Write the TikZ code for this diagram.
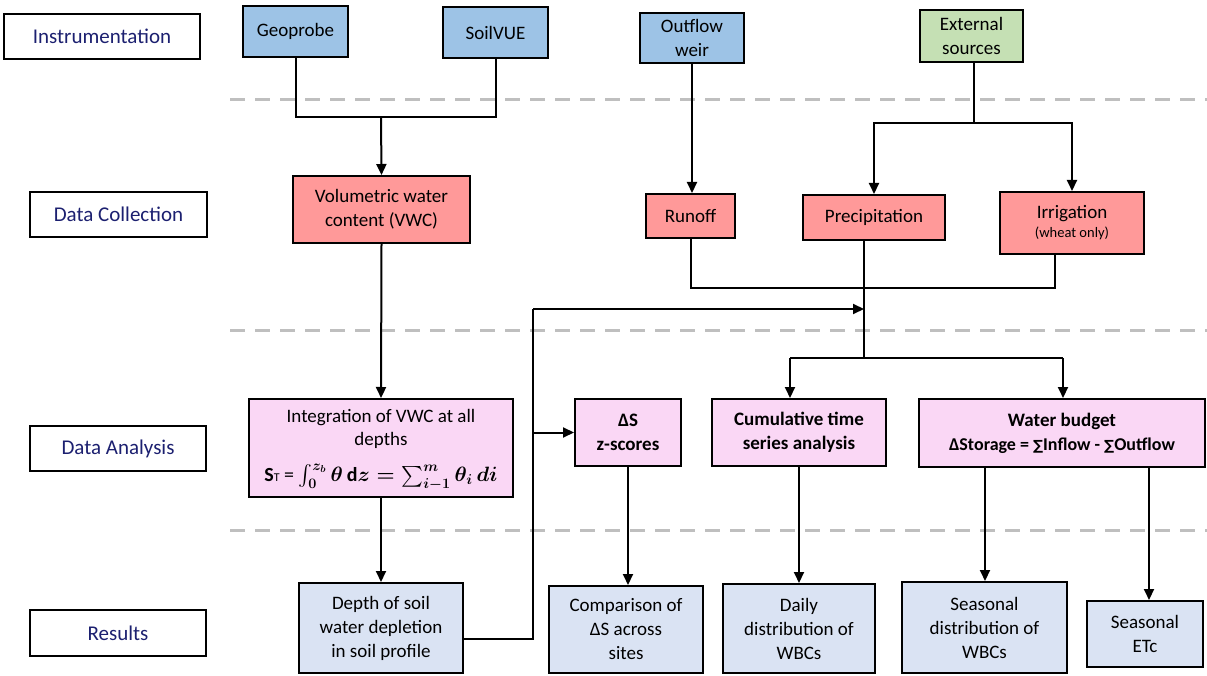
\documentclass[tikz,border=0pt]{standalone}
\usepackage{fontspec}
\usepackage{amsmath,bm}
\setmainfont{Carlito}
\newfontfamily\symfont{DejaVu Sans}
\usetikzlibrary{arrows.meta,calc}
\definecolor{instblue}{RGB}{157,195,230}
\definecolor{extgreen}{RGB}{197,224,180}
\definecolor{collred}{RGB}{255,153,153}
\definecolor{anapink}{RGB}{250,215,245}
\definecolor{resblue}{RGB}{218,227,243}
\definecolor{navy}{RGB}{28,32,112}
\definecolor{sepgray}{RGB}{191,191,191}
\begin{document}
\begin{tikzpicture}[x=1pt,y=-1pt,
  box/.style={draw=black, line width=2pt, align=center, inner sep=1pt, font=\fontsize{19}{24}\selectfont},
  lab/.style={box, fill=white, text=navy, font=\fontsize{21}{24}\selectfont, minimum height=45pt},
  inst/.style={box, fill=instblue},
  coll/.style={box, fill=collred},
  ana/.style={box, fill=anapink},
  anab/.style={ana, font=\fontsize{19}{24}\selectfont\bfseries},
  res/.style={box, fill=resblue},
  txt/.style={align=center, inner sep=0pt, font=\fontsize{19}{23}\selectfont},
  conn/.style={line width=2pt},
  arr/.style={conn, -{Triangle[length=11pt,width=10pt]}},
  sep/.style={sepgray, line width=3pt, dash pattern=on 15pt off 10pt}]
\useasboundingbox (0,0) rectangle (1207,676);
% separators
\draw[sep] (230,100) -- (1207,100);
\draw[sep] (230,330) -- (1207,330);
\draw[sep] (230,530) -- (1207,530);
% row labels
\node[lab, minimum width=196pt] (lInst) at (102,36.5) {Instrumentation};
\node[lab, minimum width=177pt] (lColl) at (118.5,214.5) {Data Collection};
\node[lab, minimum width=176pt] (lAna) at (118,448.5) {Data Analysis};
\node[lab, minimum width=176pt, minimum height=46pt] (lRes) at (118,633) {Results};
% instrumentation
\node[inst, minimum width=105pt, minimum height=51pt] (geo) at (295.5,31.5) {Geoprobe};
\node[inst, minimum width=105pt, minimum height=51pt] (soil) at (495.5,32.5) {SoilVUE};
\node[inst, minimum width=104pt, minimum height=50pt] (weir) at (692,38) {Outflow\\weir};
\node[box, fill=extgreen, minimum width=103pt, minimum height=52pt] (ext) at (971.5,36) {External\\sources};
% data collection
\node[coll, minimum width=177pt, minimum height=67pt] (vwc) at (381.5,209.5) {Volumetric water\\content (VWC)};
\node[coll, minimum width=89pt, minimum height=44pt] (runoff) at (690.5,216) {Runoff};
\node[coll, minimum width=142pt, minimum height=45pt] (precip) at (874,217.5) {Precipitation};
\node[coll, minimum width=144pt, minimum height=62pt] (irr) at (1072,223) {Irrigation\\[-5pt]{\fontsize{14.5}{16}\selectfont (wheat only)}};
% data analysis
\node[ana, minimum width=264pt, minimum height=98pt] (integ) at (381,448) {};
\node[txt] (integt) at (381,429) {Integration of VWC at all\\depths};
\node[txt, font=\fontsize{20}{24}\selectfont] (integf) at (381,477) {{\bfseries S}{\fontsize{12}{12}\selectfont T} = {\boldmath$\int_0^{z_b}\theta\,\mathrm{d}z=\sum_{i-1}^{m}\theta_i\,di$}};
\node[anab, minimum width=106pt, minimum height=67pt] (ds) at (628,432.5) {ΔS\\z-scores};
\node[anab, minimum width=174pt, minimum height=67pt] (cum) at (799,432.5) {Cumulative time\\series analysis};
\node[anab, minimum width=286pt, minimum height=68pt] (wb) at (1062,433) {Water budget\\{\fontsize{18}{24}\selectfont ΔStorage = {\symfont\fontsize{14}{14}\selectfont ∑}Inflow - {\symfont\fontsize{14}{14}\selectfont ∑}Outflow}};
% results
\node[res, minimum width=164pt, minimum height=90pt] (depth) at (381,628) {Depth of soil\\water depletion\\in soil profile};
\node[res, minimum width=154pt, minimum height=87pt] (comp) at (626,629.5) {Comparison of\\ΔS across\\sites};
\node[res, minimum width=152pt, minimum height=89pt] (daily) at (799,628.5) {Daily\\distribution of\\WBCs};
\node[res, minimum width=165pt, minimum height=91pt] (seas) at (984.5,627.5) {Seasonal\\distribution of\\WBCs};
\node[res, minimum width=116pt, minimum height=66pt] (etc) at (1145,634) {Seasonal\\ETc};
% helper coordinates
\coordinate (j1) at (381,117);
\coordinate (j2) at (974,123);
\coordinate (j3) at (864,288);
\coordinate (j4) at (864,358);
\coordinate (irrb) at (1055,0);
\coordinate (cumin) at (790,358);
\coordinate (wbin) at (1063,358);
\coordinate (up) at (533,309);
\coordinate (wbl) at (985,0);
\coordinate (wbr) at (1149,0);
% connectors
\draw[conn] (geo.south) |- (j1) -| (soil.south);
\draw[arr] (j1) -- (vwc.north);
\draw[arr] (weir.south) -- (weir.south |- runoff.north);
\draw[conn] (j2 |- ext.south) -- (j2);
\draw[arr] (j2) -| (precip.north);
\draw[arr] (j2) -| (irr.north);
\draw[conn] (runoff.south) |- (j3);
\draw[conn] (irrb |- irr.south) |- (j3);
\draw[conn] (j4 |- precip.south) -- (j4);
\draw[conn] (cumin) -- (wbin);
\draw[arr] (cumin) -- (cumin |- cum.north);
\draw[arr] (wbin) -- (wbin |- wb.north);
\draw[arr] (vwc.south) -- (integ.north);
\draw[arr] (integ.south) -- (depth.north);
\draw[conn] ($(depth.east)+(0,11)$) -| (up);
\draw[arr] (up) -- (j4 |- up);
\draw[arr] (up |- ds.west) -- (ds.west);
\draw[arr] (ds.south) -- (ds.south |- comp.north);
\draw[arr] (cum.south) -- (daily.north);
\draw[arr] (wbl |- wb.south) -- (wbl |- seas.north);
\draw[arr] (wbr |- wb.south) -- (wbr |- etc.north);
\end{tikzpicture}
\end{document}
